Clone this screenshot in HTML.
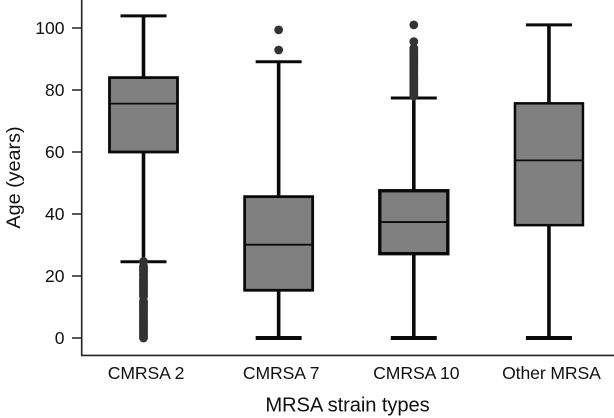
<!DOCTYPE html>
<html>
<head>
<meta charset="utf-8">
<style>
html,body{margin:0;padding:0;background:#fff;}
svg{display:block;}
text{font-family:"Liberation Sans",Arial,sans-serif;fill:#111;}
</style>
</head>
<body>
<svg id="chart" width="614" height="418" viewBox="0 0 614 418" xmlns="http://www.w3.org/2000/svg"></svg>
<script>
const categories = ["CMRSA 2", "CMRSA 7", "CMRSA 10", "Other MRSA"];
const whiskerLow = [24.6, 0, 0, 0];
const whiskerHigh = [103.9, 89.1, 77.4, 101];
const q1 = [60, 15.4, 27.2, 36.4];
const median = [75.6, 30.1, 37.4, 57.3];
const q3 = [84, 45.6, 47.5, 75.7];
const outliers2 = [0, 0.5, 1, 1.5, 2, 2.5, 3, 3.5, 4, 4.5, 5, 5.5, 6, 6.5, 7, 7.5, 8, 8.5, 9, 9.5, 10, 10.5, 11, 11.5, 12, 13.4, 13.9, 14.4, 14.9, 15.4, 15.9, 16.4, 16.9, 17.4, 17.9, 18.4, 18.9, 19.4, 20.2, 20.7, 21.2, 21.7, 22.2, 22.7, 23.2, 24.7];
const outliers7 = [92.9, 99.4];
const outliers10 = [78, 78.5, 79, 79.5, 80, 80.5, 81, 81.5, 82, 82.5, 83, 83.5, 84, 84.5, 85.3, 86, 86.5, 87, 87.5, 88, 88.5, 89, 89.5, 90, 90.5, 91, 91.5, 92, 92.5, 93, 93.5, 95.6, 101];
const outliersOther = [];
const outlierGroups = [outliers2, outliers7, outliers10, outliersOther];
const yTicks = [0, 20, 40, 60, 80, 100];
const boxStroke = [2.8, 2.8, 3.4, 2.5];

const svg = document.getElementById('chart');
const NS = 'http://www.w3.org/2000/svg';
function yScale(v) { return 338 - v * 3.1; }
function xScale(i) { return 143.5 + i * 135.15; }
function make(tag, attrs, parent) {
  const el = document.createElementNS(NS, tag);
  for (const k in attrs) el.setAttribute(k, attrs[k]);
  (parent || svg).appendChild(el);
  return el;
}

categories.forEach((cat, i) => {
  const x = xScale(i);
  const g = make('g', {});
  
  

  const stem = make('path', {
    d: 'M' + x + ' ' + yScale(whiskerHigh[i]) + 'V' + yScale(q3[i]) + 'M' + x + ' ' + yScale(q1[i]) + 'V' + yScale(whiskerLow[i]),
    stroke: '#0a0a0a', 'stroke-width': 3.6, fill: 'none'
  }, g);
  
  

  const capTop = make('line', {
    x1: x - 23, x2: x + 23, y1: yScale(whiskerHigh[i]), y2: yScale(whiskerHigh[i]),
    stroke: '#0a0a0a', 'stroke-width': 3
  }, g);
  
  

  const capLow = make('line', {
    x1: x - 23, x2: x + 23, y1: yScale(whiskerLow[i]), y2: yScale(whiskerLow[i]),
    stroke: '#0a0a0a', 'stroke-width': whiskerLow[i] === 0 ? 4 : 3
  }, g);
  
  

  outlierGroups[i].forEach(v => {
    const dot = make('circle', { cx: x, cy: yScale(v), r: 4.4, fill: '#333' }, g);
    
    
  });

  const box = make('rect', {
    x: x - 34, width: 68, y: yScale(q3[i]), height: yScale(q1[i]) - yScale(q3[i]),
    fill: '#808080', stroke: '#0a0a0a', 'stroke-width': boxStroke[i]
  }, g);
  
  

  const med = make('line', {
    x1: x - 34, x2: x + 34, y1: yScale(median[i]), y2: yScale(median[i]),
    stroke: '#0a0a0a', 'stroke-width': 1.8
  }, g);
  
  

  const label = make('text', { x: x + 2.5, y: 379, 'text-anchor': 'middle', 'font-size': 17.6, 'letter-spacing': '-0.1' }, g);
  label.textContent = cat;
  
  
});

const yAxis = make('line', { x1: 81.7, x2: 81.7, y1: 0, y2: 356, stroke: '#222', 'stroke-width': 1.6 });



const xAxis = make('line', { x1: 81, x2: 614, y1: 355.4, y2: 355.4, stroke: '#222', 'stroke-width': 1.6 });



yTicks.forEach(t => {
  const tick = make('line', { x1: 72, x2: 81.7, y1: yScale(t), y2: yScale(t), stroke: '#222', 'stroke-width': 1.5 });
  
  
  const label = make('text', { x: 64.5, y: yScale(t) + 6, 'text-anchor': 'end', 'font-size': 17.5 });
  label.textContent = t;
  
  
});

const xTitle = make('text', { x: 347.5, y: 411.5, 'text-anchor': 'middle', 'font-size': 20.2, 'letter-spacing': '-0.1' });
xTitle.textContent = 'MRSA strain types';



const yTitle = make('text', { x: 0, y: 0, transform: 'translate(20,177.5) rotate(-90)', 'text-anchor': 'middle', 'font-size': 19.8 });
yTitle.textContent = 'Age (years)';


</script>
</body>
</html>
